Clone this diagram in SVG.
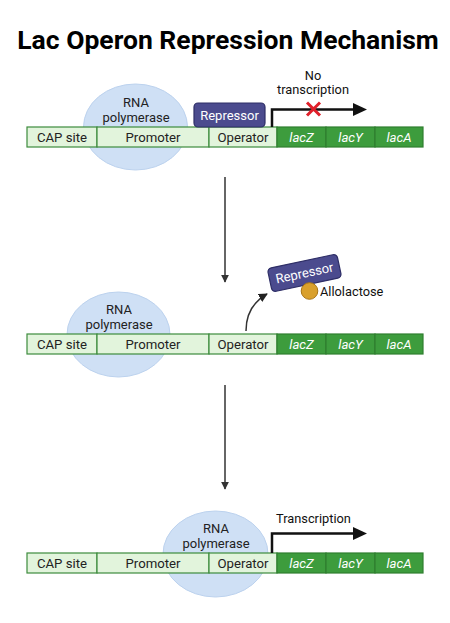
<svg xmlns="http://www.w3.org/2000/svg" width="450" height="623" viewBox="0 0 450 623">
<defs>
<style>
text{font-family:Roboto,"Liberation Sans",sans-serif;}
.title{font-size:26.5px;font-weight:bold;fill:#000;text-anchor:middle;}
.seg{fill:#e2f4dc;stroke:#3d8b3d;stroke-width:1.2;}
.gene{fill:#3d9c3d;stroke:#2f7f2f;stroke-width:1.2;}
.lbl{font-size:13.2px;fill:#222;text-anchor:middle;}
.glbl{font-size:13.2px;fill:#fff;text-anchor:middle;font-style:italic;}
.pol{fill:#cfe0f5;stroke:#bcd2ee;stroke-width:1;}
.poltxt{font-size:13px;fill:#222;text-anchor:middle;}
.rep{fill:#4b4b8e;stroke:#2e2e66;stroke-width:1.2;}
.reptxt{font-size:13px;fill:#fff;text-anchor:middle;}
.tx{fill:none;stroke:#111;stroke-width:2.5;}
.conn{fill:none;stroke:#333;stroke-width:1.5;}
.note{font-size:12.8px;fill:#111;}
</style>
<marker id="ah" viewBox="0 0 10 10" refX="9" refY="5" markerWidth="8" markerHeight="8" markerUnits="userSpaceOnUse" orient="auto"><path d="M0,0 L10,5 L0,10 Z" fill="#333"/></marker>
<marker id="ah2" viewBox="0 0 10 10" refX="9" refY="5" markerWidth="9" markerHeight="9" markerUnits="userSpaceOnUse" orient="auto"><path d="M0,0 L10,5 L0,10 Z" fill="#222"/></marker>
<g id="strip">
<rect class="seg" x="27" y="0" width="70" height="20"/>
<rect class="seg" x="97" y="0" width="112" height="20"/>
<rect class="seg" x="209" y="0" width="68" height="20"/>
<rect class="gene" x="277" y="0" width="49" height="20"/>
<rect class="gene" x="326" y="0" width="49" height="20"/>
<rect class="gene" x="375" y="0" width="48" height="20"/>
<text class="lbl" x="62" y="14.7">CAP site</text>
<text class="lbl" x="153" y="14.7">Promoter</text>
<text class="lbl" x="243" y="14.7">Operator</text>
<text class="glbl" x="301.5" y="14.7">lacZ</text>
<text class="glbl" x="350.5" y="14.7">lacY</text>
<text class="glbl" x="399" y="14.7">lacA</text>
</g>
</defs>

<text class="title" x="228" y="49">Lac Operon Repression Mechanism</text>

<!-- Panel 1 -->
<g id="polymerase1">
<ellipse class="pol" cx="135.5" cy="127" rx="52" ry="43"/>
</g>
<g id="operon1"><use href="#strip" y="127"/></g>
<g id="polymerase1-label">
<text class="poltxt" x="136" y="107">RNA</text>
<text class="poltxt" x="136" y="122">polymerase</text>
</g>
<g id="repressor1">
<rect class="rep" x="194" y="103" width="71" height="24" rx="4"/>
<text class="reptxt" x="229.5" y="119.5">Repressor</text>
</g>
<g id="no-transcription">
<path class="tx" d="M272,127 V109.5 H356"/>
<path d="M353,103 L367,109.5 L353,116 Z" fill="#111"/>
<path d="M307,102.5 L320,115.5 M320,102.5 L307,115.5" stroke="#e0202a" stroke-width="3" fill="none"/>
<text class="note" x="313" y="80" text-anchor="middle">No</text>
<text class="note" x="313" y="93.5" text-anchor="middle">transcription</text>
</g>

<!-- Panel 2 -->
<g id="polymerase2">
<ellipse class="pol" cx="118.5" cy="334.5" rx="51.5" ry="42.5"/>
</g>
<g id="operon2"><use href="#strip" y="334"/></g>
<g id="polymerase2-label">
<text class="poltxt" x="119" y="314">RNA</text>
<text class="poltxt" x="119" y="329">polymerase</text>
</g>
<g id="repressor2">
<g transform="translate(304.5,273) rotate(-12)">
<rect class="rep" x="-35.5" y="-12" width="71" height="24" rx="4"/>
<text class="reptxt" x="0" y="4.5">Repressor</text>
</g>
</g>
<g id="allolactose">
<circle cx="309.5" cy="291" r="8.3" fill="#d9a02c" stroke="#a87414" stroke-width="1"/>
<text class="note" x="320" y="295.5">Allolactose</text>
</g>

<!-- Panel 3 -->
<g id="polymerase3">
<ellipse class="pol" cx="215.5" cy="554" rx="52.5" ry="43"/>
</g>
<g id="operon3"><use href="#strip" y="553"/></g>
<g id="polymerase3-label">
<text class="poltxt" x="216" y="533">RNA</text>
<text class="poltxt" x="216" y="548">polymerase</text>
</g>
<g id="transcription">
<path class="tx" d="M272,553 V533.5 H356"/>
<path d="M353,527 L367,533.5 L353,540 Z" fill="#111"/>
<text class="note" x="276" y="523">Transcription</text>
</g>

<g id="connectors">
<line class="conn" x1="225" y1="177" x2="225" y2="282" marker-end="url(#ah)"/>
<line class="conn" x1="225" y1="385" x2="225" y2="489" marker-end="url(#ah)"/>
<path class="conn" d="M246,331 C246,314 253,302 267,294" marker-end="url(#ah2)"/>
</g>
</svg>
